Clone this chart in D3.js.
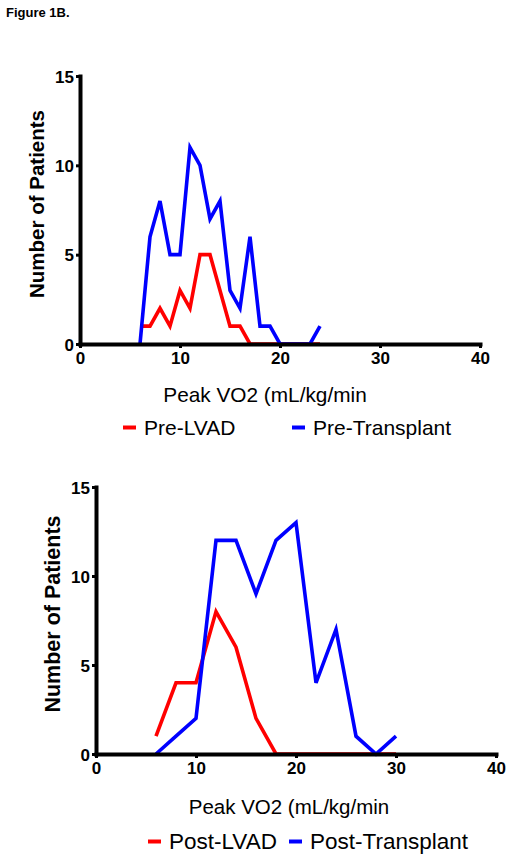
<!DOCTYPE html>
<html><head><meta charset="utf-8">
<script src="https://cdn.jsdelivr.net/npm/d3@7"></script>
<style>
html,body{margin:0;padding:0;background:#fff;}
svg{display:block;font-family:"Liberation Sans",Arial,sans-serif;}
</style></head>
<body>
<script>
// ---- data ----
const preX = [6,7,8,9,10,11,12,13,14,15,16,17,18,19,20,21,22,23,24];
const preLVAD = [1,1,2,1,3,2,5,5,3,1,1,0,0,0,0,0,0,0,0];
const preTransplant = [0,6,8,5,5,11,10,7,8,3,2,6,1,1,0,0,0,0,1];
const postX = [6,8,10,12,14,16,18,20,22,24,26,28,30];
const postLVAD = [1,4,4,8,6,2,0,0,0,0,0,0,0];
const postTransplant = [0,1,2,12,12,9,12,13,4,7,1,0,1];
const xTicks = [0,10,20,30,40];
const yTicks = [0,5,10,15];
const preLabels = ["Pre-LVAD","Pre-Transplant"];
const postLabels = ["Post-LVAD","Post-Transplant"];
const colors = ["#ff0000","#0000ff"];

const svg = d3.select("body").append("svg").attr("width",512).attr("height",862);
svg.append("text").attr("x",6).attr("y",17).attr("font-size",13).attr("font-weight","bold").text("Figure 1B.");

function panel(cfg){
  const x = d3.scaleLinear().domain([0,40]).range([cfg.x0,cfg.x1]);
  const y = d3.scaleLinear().domain([0,15]).range([cfg.y0,cfg.y1]);
  const g = svg.append("g");
  const line = d3.line().x(d=>x(d[0])).y(d=>y(d[1]));
  cfg.series.forEach((s,i)=>{
    g.append("path").datum(cfg.xs.map((v,j)=>[v,s[j]]))
      .attr("d",line).attr("fill","none").attr("stroke",colors[i])
      .attr("stroke-width",3.6).attr("stroke-linejoin","miter");
  });
  const xa = g.append("g").attr("transform",`translate(0,${cfg.y0})`)
    .call(d3.axisBottom(x).tickValues(xTicks).tickSize(4).tickPadding(4).tickSizeOuter(0));
  const ya = g.append("g").attr("transform",`translate(${cfg.x0},0)`)
    .call(d3.axisLeft(y).tickValues(yTicks).tickSize(4).tickPadding(2).tickSizeOuter(0));
  [xa,ya].forEach(a=>{
    a.select(".domain").attr("stroke","#000").attr("stroke-width",4).attr("stroke-linecap","square");
    a.selectAll(".tick line").attr("stroke","#000").attr("stroke-width",3);
    a.selectAll(".tick text").attr("font-size",17).attr("font-weight","bold").attr("fill","#000")
      .attr("font-family","'Liberation Sans',Arial,sans-serif");
  });
  ya.selectAll(".tick text").attr("dy","0.36em");
  g.append("text").attr("transform",`translate(${cfg.ylabX},${cfg.ylabY}) rotate(-90)`)
    .attr("text-anchor","middle").attr("font-size",cfg.yfs).attr("font-weight","bold").text("Number of Patients");
  g.append("text").attr("x",cfg.xlabX).attr("y",cfg.xlabY).attr("text-anchor","middle")
    .attr("font-size",cfg.xfs).text("Peak VO2 (mL/kg/min");
  cfg.labels.forEach((lab,i)=>{
    const lx = cfg.legX[i];
    g.append("line").attr("x1",lx).attr("x2",lx+13).attr("y1",cfg.legY-7.5).attr("y2",cfg.legY-7.5)
      .attr("stroke",colors[i]).attr("stroke-width",4);
    g.append("text").attr("x",lx+21).attr("y",cfg.legY).attr("font-size",cfg.lfs).text(lab);
  });
}

panel({x0:80,x1:480,y0:344,y1:76,xs:preX,series:[preLVAD,preTransplant],
  ylabX:44,ylabY:204,yfs:20.5,xlabX:265,xlabY:402,xfs:20.8,labels:preLabels,legX:[123,292],legY:435,lfs:21});
panel({x0:96,x1:496,y0:754,y1:487,xs:postX,series:[postLVAD,postTransplant],
  ylabX:60,ylabY:614,yfs:21.5,xlabX:289,xlabY:814,xfs:20.5,labels:postLabels,legX:[148,289],legY:849,lfs:22.5});
</script>
</body></html>
